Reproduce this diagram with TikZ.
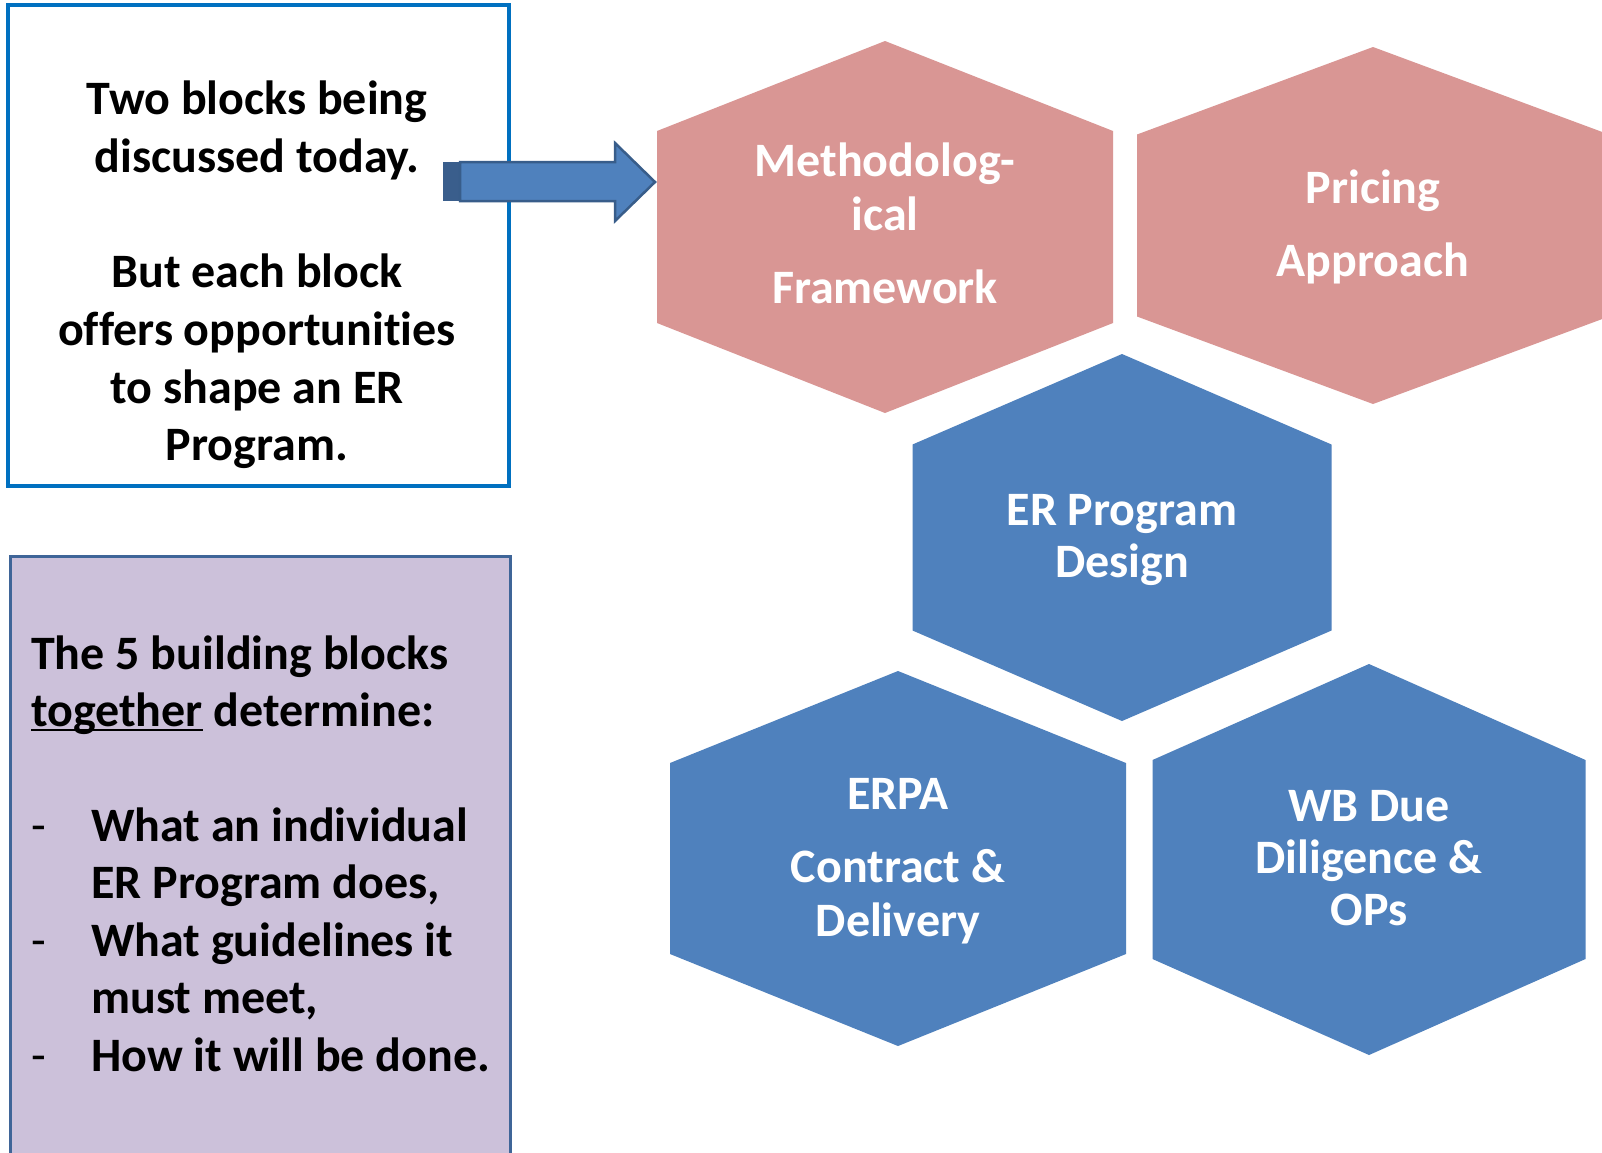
\documentclass[tikz,border=0pt]{standalone}
\usepackage{fontspec}
\setmainfont{Carlito}[Ligatures=NoCommon]
\definecolor{pinkhex}{HTML}{D99694}
\definecolor{bluehex}{HTML}{4F81BD}
\definecolor{boxblue}{HTML}{0070C0}
\definecolor{lilac}{HTML}{CCC1DA}
\definecolor{lilacedge}{HTML}{3F6598}
\definecolor{arrowedge}{HTML}{385D8A}
\definecolor{arrowdark}{HTML}{3A5E8C}
\newcommand\hexpath[5]{(#1,#2-#4) -- (#1+#3,#2-#5) -- (#1+#3,#2+#5) -- (#1,#2+#4) -- (#1-#3,#2+#5) -- (#1-#3,#2-#5) -- cycle}
\newcommand\ulword[1]{\setbox0\hbox{#1}\rlap{\rule[-5pt]{\wd0}{2.5pt}}\box0\relax}
\begin{document}
\begin{tikzpicture}[x=1pt,y=-1pt,
  txt/.style={font=\fontsize{48}{58}\selectfont\bfseries, inner sep=0pt, anchor=base},
  hextext/.style={txt, text=white},
  lefttxt/.style={txt, anchor=base west},
  dashtxt/.style={lefttxt, font=\fontsize{48}{58}\selectfont\mdseries}]
\useasboundingbox (0,0) rectangle (1602,1152);
\fill[white] (0,0) rectangle (1602,1152);

% left boxes
\draw[boxblue, line width=4pt] (8,5) rectangle (509,486);
\draw[lilacedge, fill=lilac, line width=3pt] (10,556) rectangle (510,1160);

% hexagons
\fill[pinkhex] \hexpath{885}{227}{228}{186}{96};
\fill[pinkhex] \hexpath{1373}{225.5}{236}{178.5}{91};
\fill[bluehex] \hexpath{1122}{537.5}{209.5}{183.5}{93};
\fill[bluehex] \hexpath{898}{858.5}{228}{187.5}{95.5};
\fill[bluehex] \hexpath{1369}{859.5}{216.5}{195.5}{99.5};

% arrow
\coordinate (arrowtail) at (443,182);
\coordinate (arrowtip) at (655,182);
\fill[arrowdark] (443,162) rectangle (460,201);
\draw[arrowedge, fill=bluehex, line width=2.5pt, line join=miter]
  (460,162) -- (615,162) -- (615,143) -- (arrowtip) -- (615,221) -- (615,201) -- (460,201) -- cycle;

% top box text
\node[txt] (t1) at (257,114) {Two blocks being};
\node[txt] (t2) at (257,172) {discussed today.};
\node[txt] (t3) at (257,287) {But each block};
\node[txt] (t4) at (257,345) {offers opportunities};
\node[txt] (t5) at (257,403) {to shape an ER};
\node[txt] (t6) at (257,460) {Program.};

% purple box text
\node[lefttxt] (p1) at (31,669) {The 5 building blocks};
\node[lefttxt] (p2) at (31,726) {\ulword{together} determine:};
\node[dashtxt] (d1) at (31,841) {-};
\node[lefttxt] (p3) at (91,841) {What an individual};
\node[lefttxt] (p4) at (91,898) {ER Program does,};
\node[dashtxt] (d2) at (31,956) {-};
\node[lefttxt] (p5) at (91,956) {What guidelines it};
\node[lefttxt] (p6) at (91,1013) {must meet,};
\node[dashtxt] (d3) at (31,1071) {-};
\node[lefttxt] (p7) at (91,1071) {How it will be done.};

% hexagon texts
\node[hextext] (m1) at (885,176) {Methodolog-};
\node[hextext] (m2) at (885,230) {ical};
\node[hextext] (m3) at (885,303) {Framework};
\node[hextext] (pr1) at (1373,203) {Pricing};
\node[hextext] (pr2) at (1373,276) {Approach};
\node[hextext] (er1) at (1122,525) {ER Program};
\node[hextext] (er2) at (1122,577) {Design};
\node[hextext] (c1) at (898,809) {ERPA};
\node[hextext] (c2) at (898,882) {Contract \&};
\node[hextext] (c3) at (898,936) {Delivery};
\node[hextext] (w1) at (1369,821) {WB Due};
\node[hextext] (w2) at (1369,873) {Diligence \&};
\node[hextext] (w3) at (1369,925) {OPs};
\end{tikzpicture}
\end{document}
